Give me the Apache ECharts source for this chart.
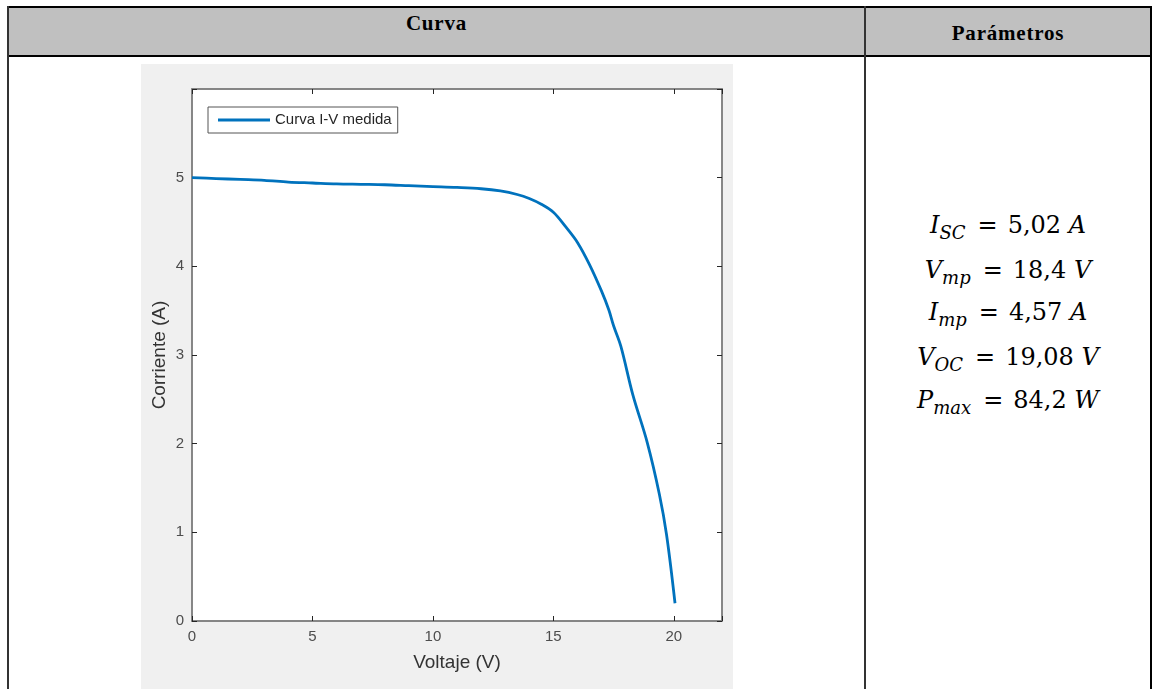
<!DOCTYPE html>
<html>
<head>
<meta charset="utf-8">
<script src="https://cdn.jsdelivr.net/npm/echarts@6/dist/echarts.min.js"></script>
<style>
body { margin: 0; width: 1154px; height: 689px; overflow: hidden; background: #fff; position: relative; }
.abs { position: absolute; }
.hdr { font-family: "Liberation Serif", serif; font-weight: bold; font-size: 21px; letter-spacing: 0.8px; color: #000; text-align: center; }
.eq { font-family: "DejaVu Serif", serif; font-size: 24px; color: #000; text-align: center; left: 866px; width: 284px; height: 30px; line-height: 30px; white-space: nowrap; }
.eq i { font-style: italic; }
.eq sub { font-size: 18px; font-style: italic; vertical-align: -6px; line-height: 0; }
.eq .op { margin: 0 10px 0 12px; }
</style>
</head>
<body>
<div class="abs" style="left:8px;top:8px;width:1142px;height:47px;background:#c0c0c0"></div>
<div class="abs" style="left:7px;top:6px;width:1145px;height:2px;background:#000"></div>
<div class="abs" style="left:7px;top:55px;width:1145px;height:2px;background:#000"></div>
<div class="abs" style="left:7px;top:6px;width:2px;height:683px;background:#333"></div>
<div class="abs" style="left:864px;top:6px;width:2px;height:683px;background:#333"></div>
<div class="abs" style="left:1150px;top:6px;width:2px;height:683px;background:#000"></div>
<div class="abs hdr" style="left:9px;top:10px;width:855px;line-height:26px">Curva</div>
<div class="abs hdr" style="left:866px;top:19px;width:284px;line-height:28px">Parámetros</div>

<div class="abs eq" style="top:210px"><i>I</i><sub>SC</sub><span class="op">=</span>5,02 <i>A</i></div>
<div class="abs eq" style="top:255px"><i>V</i><sub>mp</sub><span class="op">=</span>18,4 <i>V</i></div>
<div class="abs eq" style="top:297px"><i>I</i><sub>mp</sub><span class="op">=</span>4,57 <i>A</i></div>
<div class="abs eq" style="top:342px"><i>V</i><sub>OC</sub><span class="op">=</span>19,08 <i>V</i></div>
<div class="abs eq" style="top:385px"><i>P</i><sub>max</sub><span class="op">=</span>84,2 <i>W</i></div>

<div id="chart" class="abs" style="left:141px;top:64px;width:592px;height:625px;background:#f0f0f0"></div>

<script>
// curva I-V medida
var voltaje = [0, 1, 2, 3, 4, 5, 6, 7, 8, 9, 10, 11, 12, 12.8, 13.5, 14, 14.5, 15, 15.5, 16, 16.5, 17, 17.3, 17.5, 17.8, 18.3, 18.9, 19.4, 19.7, 20.05];
var corriente = [5.00, 4.99, 4.98, 4.97, 4.95, 4.94, 4.93, 4.925, 4.92, 4.91, 4.90, 4.89, 4.875, 4.85, 4.81, 4.765, 4.70, 4.61, 4.45, 4.27, 4.02, 3.72, 3.51, 3.33, 3.10, 2.55, 2.01, 1.43, 0.97, 0.20];
var xTicks = [0, 5, 10, 15, 20];
var yTicks = [0, 1, 2, 3, 4, 5];

var curva = voltaje.map(function (v, i) { return [v, corriente[i]]; });

var frame = '#7f7f7f';

function axis(pos, max, step, ticks, withLabels) {
    return {
        type: 'value', position: pos, min: 0, max: max, interval: step,
        splitLine: { show: false },
        axisLine: { show: true, onZero: false, lineStyle: { color: frame, width: 1.5 } },
        axisTick: { show: true, inside: true, length: 5, lineStyle: { color: '#262626' } },
        axisLabel: {
            show: withLabels,
            margin: 8, color: '#4d4d4d', fontSize: 15, fontFamily: 'Liberation Sans',
            formatter: function (v) { return ticks.indexOf(v) >= 0 ? String(v) : ''; }
        }
    };
}

var xBottom = axis('bottom', 22, 5, xTicks, true);
xBottom.name = 'Voltaje (V)';
xBottom.nameLocation = 'middle';
xBottom.nameGap = 32;
xBottom.nameMoveOverlap = false;
xBottom.nameTextStyle = { color: '#333', fontSize: 19, fontFamily: 'Liberation Sans' };

var yLeft = axis('left', 6, 1, yTicks, true);
yLeft.name = 'Corriente (A)';
yLeft.nameLocation = 'middle';
yLeft.nameGap = 23;
yLeft.nameMoveOverlap = false;
yLeft.nameTextStyle = { color: '#333', fontSize: 19, fontFamily: 'Liberation Sans' };

var option = {
    animation: false,
    grid: {
        left: 51, top: 25, width: 530, height: 532,
        containLabel: false, outerBoundsMode: 'none',
        show: true, backgroundColor: '#fff', borderColor: frame, borderWidth: 1.5
    },
    legend: {
        left: 67,
        top: 43,
        padding: [5, 6, 5, 10],
        icon: 'rect',
        itemWidth: 52,
        itemHeight: 3,
        backgroundColor: '#fff',
        borderColor: '#555',
        borderWidth: 1,
        borderRadius: 0,
        textStyle: { color: '#262626', fontSize: 15, fontFamily: 'Liberation Sans', lineHeight: 16 },
        data: ['Curva I-V medida']
    },
    xAxis: [xBottom, axis('top', 22, 5, xTicks, false)],
    yAxis: [yLeft, axis('right', 6, 1, yTicks, false)],
    series: [
        {
            name: 'Curva I-V medida',
            type: 'line',
            xAxisIndex: 0,
            yAxisIndex: 0,
            symbol: 'none',
            smooth: 0.35,
            data: curva,
            lineStyle: { color: '#0072BD', width: 2.8 },
            itemStyle: { color: '#0072BD' }
        }
    ]
};

window.onload = function () {
    var chart = echarts.init(document.getElementById('chart'));
    chart.setOption(option);
};
</script>
</body>
</html>
